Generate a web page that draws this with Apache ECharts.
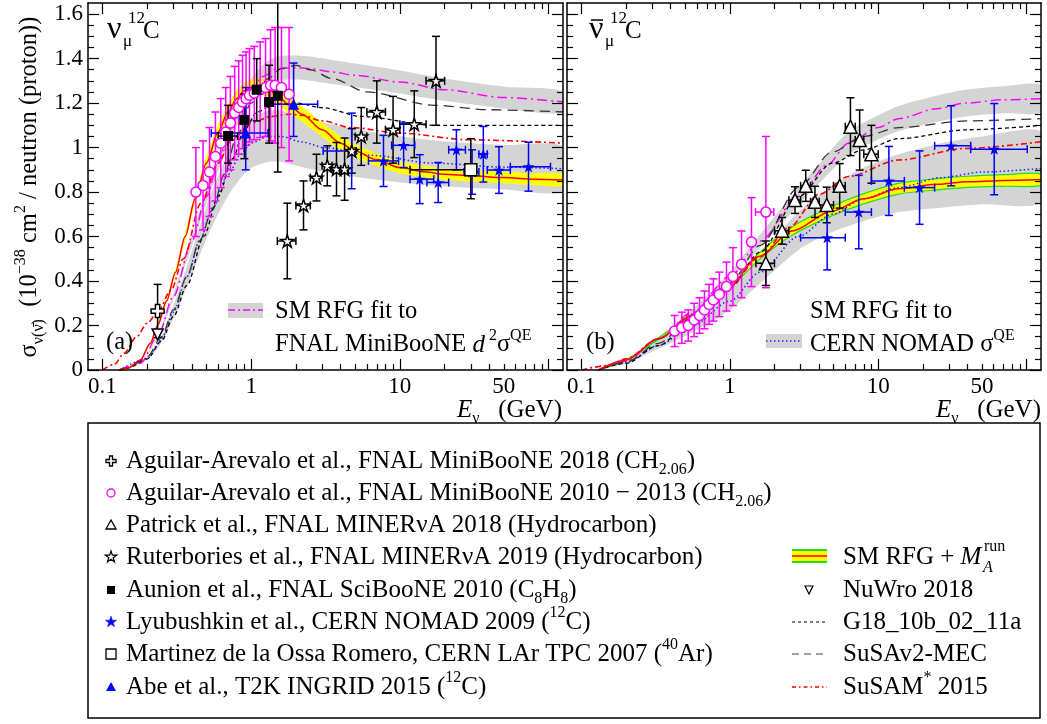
<!DOCTYPE html>
<html>
<head>
<meta charset="utf-8">
<script src="https://cdn.jsdelivr.net/npm/echarts@6/dist/echarts.min.js"></script>
<style>
  html, body { margin: 0; padding: 0; background: #fff; }
  #chart { width: 1047px; height: 724px; }
</style>
</head>
<body>
<div id="chart"></div>
<script>
// ---------------------------------------------------------------
// Energy axis (GeV, log scale) and cross-section axis (1e-38 cm^2)
// ---------------------------------------------------------------
const E_MIN = 0.08, E_MAX = 125, Y_MAX = 1.65;
const xMajorTicks = [0.1, 1, 10, 100];
const xMinorTicks = [0.2, 0.3, 0.4, 0.5, 0.6, 0.7, 0.8, 0.9,
                     2, 3, 4, 5, 6, 7, 8, 9,
                     20, 30, 40, 50, 60, 70, 80, 90];
const xTickLabels = [0.1, 1, 10, 50];
const yMajorTicks = [0, 0.2, 0.4, 0.6, 0.8, 1, 1.2, 1.4, 1.6];
const yMinorTicks = [0.05, 0.1, 0.15, 0.25, 0.3, 0.35, 0.45, 0.5, 0.55,
                     0.65, 0.7, 0.75, 0.85, 0.9, 0.95, 1.05, 1.1, 1.15,
                     1.25, 1.3, 1.35, 1.45, 1.5, 1.55];

// ---------------------------------------------------------------
// (a) nu_mu on 12C : model curves
// ---------------------------------------------------------------
const nuRfgE  = [0.13,0.15,0.18,0.21,0.235,0.27,0.31,0.36,0.42,0.5,0.6,0.7,0.8,0.9,1.0,1.15,1.3,1.5,1.8,2.2,3,4,5,7,10,15,20,30,50,80,125];
const nuRfgV  = [0,0.01,0.045,0.12,0.2,0.31,0.44,0.6,0.77,0.93,1.07,1.16,1.22,1.255,1.27,1.275,1.265,1.235,1.19,1.15,1.08,1.02,0.985,0.945,0.91,0.89,0.88,0.873,0.865,0.858,0.854];
const nuRfgLo = [0,0.01,0.044,0.116,0.194,0.3,0.427,0.582,0.747,0.902,1.038,1.125,1.183,1.217,1.232,1.237,1.227,1.198,1.154,1.116,1.048,0.989,0.955,0.917,0.883,0.863,0.854,0.847,0.839,0.832,0.828];
const nuRfgHi = [0,0.01,0.046,0.124,0.206,0.32,0.453,0.618,0.793,0.958,1.102,1.195,1.257,1.293,1.308,1.313,1.303,1.272,1.226,1.185,1.112,1.051,1.015,0.973,0.937,0.917,0.906,0.899,0.891,0.884,0.88];

const nuMagE  = [0.13,0.18,0.235,0.3,0.4,0.5,0.6,0.7,0.8,0.9,1.0,1.2,1.5,2,2.5,3.5,5,10,20,50,125];
const nuMagV  = [0,0.03,0.15,0.33,0.58,0.78,0.93,1.05,1.14,1.21,1.26,1.32,1.355,1.36,1.355,1.34,1.325,1.295,1.26,1.225,1.205];
const nuMagLo = [0,0.029,0.144,0.317,0.557,0.749,0.893,1.008,1.094,1.162,1.21,1.267,1.301,1.306,1.301,1.286,1.272,1.243,1.21,1.176,1.157];
const nuMagHi = [0,0.031,0.156,0.343,0.603,0.811,0.967,1.092,1.186,1.258,1.31,1.373,1.409,1.414,1.409,1.394,1.378,1.347,1.31,1.274,1.253];

const nuNomE  = [0.13,0.2,0.25,0.3,0.37,0.45,0.55,0.7,0.85,1.0,1.3,1.6,2.2,3.1,6.2,17,50,125];
const nuNomV  = [0,0.05,0.14,0.26,0.42,0.58,0.73,0.88,0.97,1.02,1.05,1.05,1.025,1.0,0.966,0.93,0.912,0.905];
const nuNomLo = [0,0.045,0.125,0.231,0.374,0.516,0.65,0.783,0.863,0.908,0.935,0.935,0.912,0.89,0.86,0.828,0.812,0.805];
const nuNomHi = [0,0.056,0.155,0.289,0.466,0.644,0.81,0.977,1.077,1.132,1.166,1.166,1.138,1.11,1.072,1.032,1.012,1.005];

const nuSusaE = [0.13,0.15,0.2,0.25,0.3,0.37,0.45,0.55,0.66,0.8,1.0,1.3,1.6,2.0,2.5,3.5,6,17,40,125];
const nuSusaV = [0,0.01,0.06,0.15,0.27,0.42,0.58,0.72,0.88,1.05,1.2,1.31,1.355,1.37,1.35,1.31,1.25,1.19,1.17,1.16];
const nuG18E  = [0.13,0.15,0.2,0.25,0.3,0.37,0.48,0.6,0.75,0.9,1.1,1.4,2,3,5.5,17,125];
const nuG18V  = [0,0.01,0.05,0.13,0.24,0.38,0.6,0.78,0.95,1.08,1.16,1.195,1.2,1.18,1.14,1.10,1.10];
const nuSamE  = [0.1,0.12,0.14,0.17,0.2,0.235,0.29,0.35,0.46,0.6,0.73,1.0,1.36,1.8,2.2,3,4.7,10,29,125];
const nuSamV  = [0,0.025,0.075,0.15,0.21,0.26,0.36,0.5,0.75,0.93,1.03,1.11,1.14,1.15,1.145,1.12,1.09,1.065,1.035,1.02];

// (a) measurements
const mbNuE   = [0.425,0.475,0.525,0.575,0.625,0.675,0.725,0.775,0.825,0.875,0.925,0.975,1.05,1.15,1.25,1.35,1.45,1.6,1.8];
const mbNuV   = [0.80,0.83,0.89,0.96,1.02,1.07,1.11,1.155,1.18,1.205,1.22,1.235,1.245,1.26,1.27,1.28,1.28,1.27,1.24];
const mbNuErr = [0.2,0.2,0.2,0.2,0.2,0.2,0.21,0.21,0.21,0.21,0.21,0.21,0.21,0.215,0.22,0.25,0.26,0.27,0.3];

const rutE    = [1.75,2.25,2.75,3.25,3.75,4.25,4.75,5.5,7,9,12.5,17.5];
const rutXlo  = [1.5,2,2.5,3,3.5,4,4.5,5,6,8,10,15];
const rutXhi  = [2,2.5,3,3.5,4,4.5,5,6,8,10,15,20];
const rutV    = [0.58,0.74,0.865,0.918,0.903,0.903,0.985,1.05,1.16,1.08,1.105,1.30];
const rutErr  = [0.17,0.11,0.105,0.09,0.12,0.14,0.10,0.13,0.14,0.15,0.15,0.20];

const nomNuE   = [4.74,7.76,10.6,13.6,18.1,24.0,30.6,36.4,46.4,73.3];
const nomNuXlo = [3.05,6.15,8.8,11.7,15.2,21.3,27,34,38.7,55.3];
const nomNuXhi = [5.1,9.8,12.6,16.9,21.3,27.6,34,38.7,55.3,103];
const nomNuV   = [0.985,0.94,1.01,0.858,0.843,0.99,0.89,0.97,0.899,0.914];
const nomNuErr = [0.17,0.115,0.10,0.11,0.09,0.09,0.10,0.125,0.105,0.11];

const t2kE   = [0.92,1.93];
const t2kXlo = [0.54,1.3];
const t2kXhi = [1.3,2.8];
const t2kV   = [1.065,1.195];
const t2kVlo = [0.9,1.05];
const t2kVhi = [1.27,1.38];

const sciE   = [0.70,0.90,1.09,1.32,1.51];
const sciXlo = [0.6,0.85,1.02,1.24,1.45];
const sciXhi = [0.81,0.95,1.16,1.40,1.58];
const sciV   = [1.052,1.124,1.26,1.205,1.233];
const sciVlo = [0.93,0.95,1.12,1.02,0.89];
const sciVhi = [1.19,1.24,1.40,1.37,1.75];

const mb18E = [0.235], mb18V = [0.265], mb18Err = [0.12];
const nuwroE = [0.235], nuwroV = [0.16];

const larE = [30], larXlo = [11.7], larXhi = [30], larV = [0.9], larVlo = [0.77], larVhi = [1.04];

// ---------------------------------------------------------------
// (b) anti-nu_mu on 12C : model curves
// ---------------------------------------------------------------
const nbRfgE  = [0.13,0.2,0.33,0.56,0.94,1.57,2.63,4.9,8,13.7,25,40,70,125];
const nbRfgV  = [0,0.045,0.14,0.245,0.36,0.51,0.625,0.715,0.77,0.815,0.835,0.846,0.852,0.856];
const nbRfgLo = [0,0.044,0.136,0.238,0.349,0.495,0.606,0.694,0.747,0.791,0.81,0.821,0.826,0.83];
const nbRfgHi = [0,0.046,0.144,0.252,0.371,0.525,0.644,0.736,0.793,0.839,0.86,0.871,0.878,0.882];

const nbMagE  = [0.13,0.2,0.33,0.56,1.0,1.6,2.9,4.5,6.3,10,13.7,25,38.6,70,125];
const nbMagV  = [0,0.04,0.14,0.26,0.42,0.58,0.78,0.92,1.02,1.09,1.13,1.175,1.2,1.215,1.22];
const nbMagLo = [0,0.038,0.133,0.247,0.399,0.551,0.741,0.874,0.969,1.036,1.074,1.116,1.14,1.154,1.159];
const nbMagHi = [0,0.042,0.147,0.273,0.441,0.609,0.819,0.966,1.071,1.145,1.187,1.234,1.26,1.276,1.281];

const nbNomE  = [0.13,0.2,0.33,0.56,1.0,1.6,2.9,4.9,8,13.7,26.6,50,125];
const nbNomV  = [0,0.035,0.11,0.2,0.31,0.44,0.6,0.7,0.77,0.82,0.865,0.89,0.906];
const nbNomLo = [0,0.03,0.095,0.17,0.27,0.39,0.54,0.62,0.67,0.71,0.73,0.745,0.755];
const nbNomHi = [0,0.04,0.13,0.24,0.37,0.52,0.71,0.83,0.91,0.97,1.02,1.05,1.07];

const nbSusaE = [0.13,0.2,0.33,0.56,1.0,1.6,2.9,4.9,8,13.7,40,125];
const nbSusaV = [0,0.035,0.12,0.235,0.39,0.56,0.82,0.98,1.05,1.09,1.12,1.13];
const nbG18E  = [0.13,0.2,0.33,0.56,1.0,1.6,2.9,4.9,8,13.7,40,125];
const nbG18V  = [0,0.03,0.11,0.22,0.37,0.53,0.78,0.93,0.99,1.04,1.08,1.10];
const nbSamE  = [0.1,0.15,0.2,0.33,0.56,1.0,1.6,2.5,4.0,6.3,13.7,38.6,125];
const nbSamV  = [0,0.02,0.05,0.14,0.25,0.38,0.51,0.64,0.79,0.87,0.944,0.996,1.026];

// (b) measurements
const mbNbE   = [0.425,0.475,0.525,0.575,0.625,0.675,0.725,0.775,0.85,0.95,1.05,1.2,1.4,1.75];
const mbNbV   = [0.175,0.19,0.20,0.225,0.245,0.27,0.295,0.315,0.34,0.375,0.42,0.475,0.575,0.71];
const mbNbErr = [0.07,0.07,0.07,0.075,0.08,0.085,0.09,0.095,0.1,0.11,0.13,0.15,0.2,0.34];
const mbNbXlo = [0.425,0.475,0.525,0.575,0.625,0.675,0.725,0.775,0.85,0.95,1.05,1.2,1.4,1.49];
const mbNbXhi = [0.425,0.475,0.525,0.575,0.625,0.675,0.725,0.775,0.85,0.95,1.05,1.2,1.4,1.98];

const patE   = [1.75,2.25,2.75,3.25,3.75,4.5,5.5,6.5,7.5,9];
const patXlo = [1.5,2,2.5,3,3.5,4,5,6,7,8];
const patXhi = [2,2.5,3,3.5,4,5,6,7,8,10];
const patV   = [0.48,0.626,0.764,0.828,0.756,0.742,0.828,1.094,1.034,0.97];
const patErr = [0.1,0.06,0.06,0.07,0.07,0.08,0.1,0.13,0.135,0.13];

const nomNbE   = [4.53,7.4,11.8,19,31,60.5];
const nomNbXlo = [3,6,9,15,24,42];
const nomNbXhi = [6,9,15,24,42,101];
const nomNbV   = [0.595,0.71,0.85,0.82,1.008,0.993];
const nomNbErr = [0.145,0.165,0.155,0.165,0.18,0.205];

// ---------------------------------------------------------------
// helpers
// ---------------------------------------------------------------
const lg = Math.log10;
const SERIF = '"Liberation Serif", "Times New Roman", serif';
const FS = 25;             // body text size
const BLACK = '#000';
const GREY = '#d4d4d4';
const MAGENTA = '#ff00ff';
const BLUE = '#0000ff';
const RED = '#ff0000';

const STAR = 'path://M0,-10L2.245,-3.09L9.511,-3.09L3.633,1.18L5.878,8.09L0,3.82L-5.878,8.09L-3.633,1.18L-9.511,-3.09L-2.245,-3.09Z';
const CROSS = 'path://M-1,-3L1,-3L1,-1L3,-1L3,1L1,1L1,3L-1,3L-1,1L-3,1L-3,-1L-1,-1Z';

function fmtE(v) {
  const e = Math.pow(10, v);
  return e < 1 ? e.toFixed(1) : String(Math.round(e));
}

function xAxesFor(g) {
  const base = { gridIndex: g, type: 'value', min: lg(E_MIN), max: lg(E_MAX), z: 10,
    splitLine: { show: false }, axisLine: { show: false, onZero: false },
    axisLabel: { show: false }, axisPointer: { show: false } };
  const line = { show: true, onZero: false, lineStyle: { color: BLACK, width: 1.5 } };
  const major = { show: true, inside: true, length: 11, lineStyle: { color: BLACK, width: 1.2 }, customValues: xMajorTicks.map(lg) };
  const minor = { show: true, inside: true, length: 6, lineStyle: { color: BLACK, width: 1.2 }, customValues: xMinorTicks.map(lg) };
  return [
    Object.assign({}, base, { position: 'bottom', axisLine: line, axisTick: major,
      axisLabel: { show: true, customValues: xTickLabels.map(lg), formatter: fmtE,
        fontFamily: SERIF, fontSize: 23, color: BLACK, margin: 5 } }),
    Object.assign({}, base, { position: 'bottom', axisTick: minor }),
    Object.assign({}, base, { position: 'top', axisLine: line, axisTick: major }),
    Object.assign({}, base, { position: 'top', axisTick: minor })
  ];
}

function yAxesFor(g) {
  const base = { gridIndex: g, type: 'value', min: 0, max: Y_MAX, z: 10,
    splitLine: { show: false }, axisLine: { show: false, onZero: false },
    axisLabel: { show: false }, axisPointer: { show: false } };
  const line = { show: true, onZero: false, lineStyle: { color: BLACK, width: 1.5 } };
  const major = { show: true, inside: true, length: 11, lineStyle: { color: BLACK, width: 1.2 }, customValues: yMajorTicks };
  const minor = { show: true, inside: true, length: 6, lineStyle: { color: BLACK, width: 1.2 }, customValues: yMinorTicks };
  const labels = g === 0
    ? { show: true, customValues: yMajorTicks, fontFamily: SERIF, fontSize: 23, color: BLACK, margin: 5 }
    : { show: false };
  return [
    Object.assign({}, base, { position: 'left', axisLine: line, axisTick: major, axisLabel: labels }),
    Object.assign({}, base, { position: 'left', axisTick: minor }),
    Object.assign({}, base, { position: 'right', axisLine: line, axisTick: major }),
    Object.assign({}, base, { position: 'right', axisTick: minor })
  ];
}

// filled band between two model curves (uncertainty region)
function band(g, E, lo, hi, fill, stroke) {
  const data = E.map((e, i) => [lg(e), lo[i], hi[i]]);
  return {
    type: 'custom', xAxisIndex: 4 * g, yAxisIndex: 4 * g, z: 1, clip: true, silent: true, data,
    renderItem(params, api) {
      if (params.dataIndex !== 0) return null;
      const up = data.map(d => api.coord([d[0], d[2]]));
      const dn = data.map(d => api.coord([d[0], d[1]])).reverse();
      return { type: 'polygon', shape: { points: up.concat(dn), smooth: 0.25 },
        style: { fill, stroke: stroke || null, lineWidth: 1.2 } };
    }
  };
}

function curve(g, E, V, color, dash, width, z) {
  return {
    type: 'line', xAxisIndex: 4 * g, yAxisIndex: 4 * g, z: z || 2, silent: true,
    data: E.map((e, i) => [lg(e), V[i]]), symbol: 'none', showSymbol: false,
    smooth: 0.3, smoothMonotone: 'x', clip: true,
    lineStyle: { color, type: dash, width }
  };
}

// error bars: rows of [E, value, low, high, E_low, E_high]
function errBars(g, color, rows) {
  return {
    type: 'custom', xAxisIndex: 4 * g, yAxisIndex: 4 * g, z: 3, clip: true, silent: true,
    data: rows.map(r => [lg(r[0]), r[1], r[2], r[3], lg(r[4]), lg(r[5])]),
    renderItem(params, api) {
      const x = api.value(0), y = api.value(1);
      const p = api.coord([x, y]);
      const t = api.coord([x, api.value(3)]);
      const b = api.coord([x, api.value(2)]);
      const st = { stroke: color, lineWidth: 1.5 };
      const cap = 4;
      const ch = [
        { type: 'line', shape: { x1: p[0], y1: t[1], x2: p[0], y2: b[1] }, style: st },
        { type: 'line', shape: { x1: p[0] - cap, y1: t[1], x2: p[0] + cap, y2: t[1] }, style: st },
        { type: 'line', shape: { x1: p[0] - cap, y1: b[1], x2: p[0] + cap, y2: b[1] }, style: st }
      ];
      const xl = api.value(4), xh = api.value(5);
      if (xh - xl > 1e-6) {
        const l = api.coord([xl, y]), r = api.coord([xh, y]);
        ch.push({ type: 'line', shape: { x1: l[0], y1: p[1], x2: r[0], y2: p[1] }, style: st });
        ch.push({ type: 'line', shape: { x1: l[0], y1: p[1] - cap, x2: l[0], y2: p[1] + cap }, style: st });
        ch.push({ type: 'line', shape: { x1: r[0], y1: p[1] - cap, x2: r[0], y2: p[1] + cap }, style: st });
      }
      return { type: 'group', children: ch };
    }
  };
}

function symRows(E, V, err, xlo, xhi) {
  return E.map((e, i) => [e, V[i], V[i] - err[i], V[i] + err[i], xlo ? xlo[i] : e, xhi ? xhi[i] : e]);
}
function asymRows(E, V, vlo, vhi, xlo, xhi) {
  return E.map((e, i) => [e, V[i], vlo[i], vhi[i], xlo ? xlo[i] : e, xhi ? xhi[i] : e]);
}

function marks(g, E, V, symbol, size, fill, stroke, rotate) {
  return {
    type: 'scatter', xAxisIndex: 4 * g, yAxisIndex: 4 * g, z: 4, silent: true,
    symbol, symbolSize: size, symbolKeepAspect: true, symbolRotate: rotate || 0,
    itemStyle: { color: fill, borderColor: stroke || fill, borderWidth: stroke ? 1.5 : 0, opacity: 1 },
    data: E.map((e, i) => [lg(e), V[i]])
  };
}

// ---------------------------------------------------------------
// series
// ---------------------------------------------------------------
const dotted = [1.5, 2.5], dashDot = [10, 4, 2, 4], shortDash = [4, 3], longDash = [10, 6], redDashDot = [6, 3, 2, 3];

const series = [
  // panel (a)
  band(0, nuNomE, nuNomLo, nuNomHi, GREY),
  band(0, nuMagE, nuMagLo, nuMagHi, GREY),
  band(0, nuRfgE, nuRfgLo, nuRfgHi, '#ffff00'),
  curve(0, nuNomE, nuNomV, '#2020ff', dotted, 1.5),
  curve(0, nuMagE, nuMagV, MAGENTA, dashDot, 1.5),
  curve(0, nuG18E, nuG18V, BLACK, shortDash, 1.3),
  curve(0, nuSusaE, nuSusaV, '#333', longDash, 1.3),
  curve(0, nuSamE, nuSamV, RED, redDashDot, 1.6),
  curve(0, nuRfgE, nuRfgV, RED, 'solid', 1.5),
  errBars(0, MAGENTA, symRows(mbNuE, mbNuV, mbNuErr)),
  errBars(0, BLACK, symRows(rutE, rutV, rutErr, rutXlo, rutXhi)),
  errBars(0, BLUE, symRows(nomNuE, nomNuV, nomNuErr, nomNuXlo, nomNuXhi)),
  errBars(0, BLUE, asymRows(t2kE, t2kV, t2kVlo, t2kVhi, t2kXlo, t2kXhi)),
  errBars(0, BLACK, asymRows(sciE, sciV, sciVlo, sciVhi, sciXlo, sciXhi)),
  errBars(0, BLACK, symRows(mb18E, mb18V, mb18Err)),
  errBars(0, BLACK, asymRows(larE, larV, larVlo, larVhi, larXlo, larXhi)),
  marks(0, nomNuE, nomNuV, STAR, 12, BLUE),
  marks(0, rutE, rutV, STAR, 13, '#fff', BLACK),
  marks(0, mbNuE, mbNuV, 'circle', 10, '#fff', MAGENTA),
  marks(0, t2kE, t2kV, 'triangle', 11, BLUE),
  marks(0, sciE, sciV, 'rect', 10, BLACK),
  marks(0, mb18E, mb18V, CROSS, 13, '#fff', BLACK),
  marks(0, nuwroE, nuwroV, 'triangle', 11, '#fff', BLACK, 180),
  marks(0, larE, larV, 'rect', 12, '#fff', BLACK),

  // panel (b)
  band(1, nbNomE, nbNomLo, nbNomHi, GREY),
  band(1, nbMagE, nbMagLo, nbMagHi, GREY),
  band(1, nbRfgE, nbRfgLo, nbRfgHi, '#ffff00', '#22dd22'),
  curve(1, nbNomE, nbNomV, '#2020ff', dotted, 1.5),
  curve(1, nbMagE, nbMagV, MAGENTA, dashDot, 1.5),
  curve(1, nbG18E, nbG18V, BLACK, shortDash, 1.3),
  curve(1, nbSusaE, nbSusaV, '#333', longDash, 1.3),
  curve(1, nbSamE, nbSamV, RED, redDashDot, 1.6),
  curve(1, nbRfgE, nbRfgV, RED, 'solid', 1.5),
  errBars(1, MAGENTA, symRows(mbNbE, mbNbV, mbNbErr, mbNbXlo, mbNbXhi)),
  errBars(1, BLACK, symRows(patE, patV, patErr, patXlo, patXhi)),
  errBars(1, BLUE, symRows(nomNbE, nomNbV, nomNbErr, nomNbXlo, nomNbXhi)),
  marks(1, nomNbE, nomNbV, STAR, 12, BLUE),
  marks(1, patE, patV, 'triangle', 13, '#fff', BLACK),
  marks(1, mbNbE, mbNbV, 'circle', 10, '#fff', MAGENTA)
];

// ---------------------------------------------------------------
// text, in-panel keys and the legend box
// ---------------------------------------------------------------
const RICH = {
  sub: { fontFamily: SERIF, fontSize: 16, lineHeight: 14, verticalAlign: 'bottom' },
  sup: { fontFamily: SERIF, fontSize: 16, lineHeight: 14, verticalAlign: 'top' },
  i:   { fontFamily: SERIF, fontStyle: 'italic', fontSize: FS, lineHeight: 34 }
};
function txt(x, y, text, size, align, extra) {
  return Object.assign({
    type: 'text', x, y, z: 100, silent: true,
    style: { text, fontFamily: SERIF, fontSize: size || FS, lineHeight: 34, fill: BLACK,
      align: align || 'left', verticalAlign: 'middle', rich: RICH }
  }, extra || {});
}
function hline(x1, x2, y, color, dash, width) {
  return { type: 'line', z: 100, silent: true, shape: { x1, y1: y, x2, y2: y },
    style: { stroke: color, lineDash: dash || null, lineWidth: width || 1.5 } };
}
function starPts(cx, cy, R) {
  const pts = [];
  for (let k = 0; k < 10; k++) {
    const a = -Math.PI / 2 + k * Math.PI / 5, r = k % 2 ? R * 0.38 : R;
    pts.push([cx + r * Math.cos(a), cy + r * Math.sin(a)]);
  }
  return pts;
}

const legendLeftRows = [
  'Aguilar-Arevalo et al., FNAL MiniBooNE 2018 (CH{sub|2.06})',
  'Aguilar-Arevalo et al., FNAL MiniBooNE 2010 \u2212 2013 (CH{sub|2.06})',
  'Patrick et al., FNAL MINER\u03bdA 2018 (Hydrocarbon)',
  'Ruterbories et al., FNAL MINER\u03bdA 2019 (Hydrocarbon)',
  'Aunion et al., FNAL SciBooNE 2010 (C{sub|8}H{sub|8})',
  'Lyubushkin et al., CERN NOMAD 2009 ({sup|12}C)',
  'Martinez de la Ossa Romero, CERN LAr TPC 2007 ({sup|40}Ar)',
  'Abe et al., T2K INGRID 2015 ({sup|12}C)'
];
const legendRightRows = ['SM RFG + {i|M}', 'NuWro 2018', 'G18_10b_02_11a', 'SuSAv2-MEC', 'SuSAM{sup|*} 2015'];
const rowY = [461, 493, 525, 557, 590, 622, 654, 687];

const graphics = [];
// legend frame
graphics.push({ type: 'rect', z: 99, silent: true, shape: { x: 88, y: 423, width: 952, height: 295 },
  style: { fill: '#fff', stroke: BLACK, lineWidth: 1.5 } });
legendLeftRows.forEach((t, i) => graphics.push(txt(126, rowY[i], t)));
// left-column markers
const mx = 111;
graphics.push({ type: 'polygon', z: 100, shape: { points: [[-1.5,-5],[1.5,-5],[1.5,-1.5],[5,-1.5],[5,1.5],[1.5,1.5],[1.5,5],[-1.5,5],[-1.5,1.5],[-5,1.5],[-5,-1.5],[-1.5,-1.5]].map(p => [mx + p[0], rowY[0] + p[1]]) }, style: { fill: '#fff', stroke: BLACK, lineWidth: 1.3 } });
graphics.push({ type: 'circle', z: 100, shape: { cx: mx, cy: rowY[1], r: 4 }, style: { fill: '#fff', stroke: MAGENTA, lineWidth: 1.3 } });
graphics.push({ type: 'polygon', z: 100, shape: { points: [[mx, rowY[2] - 5], [mx + 5, rowY[2] + 4], [mx - 5, rowY[2] + 4]] }, style: { fill: '#fff', stroke: BLACK, lineWidth: 1.3 } });
graphics.push({ type: 'polygon', z: 100, shape: { points: starPts(mx, rowY[3], 6) }, style: { fill: '#fff', stroke: BLACK, lineWidth: 1.2 } });
graphics.push({ type: 'rect', z: 100, shape: { x: mx - 4, y: rowY[4] - 4, width: 8, height: 8 }, style: { fill: BLACK } });
graphics.push({ type: 'polygon', z: 100, shape: { points: starPts(mx, rowY[5], 6) }, style: { fill: BLUE, stroke: BLUE, lineWidth: 0.5 } });
graphics.push({ type: 'rect', z: 100, shape: { x: mx - 5, y: rowY[6] - 5, width: 10, height: 10 }, style: { fill: '#fff', stroke: BLACK, lineWidth: 1.3 } });
graphics.push({ type: 'polygon', z: 100, shape: { points: [[mx, rowY[7] - 5], [mx + 5, rowY[7] + 4], [mx - 5, rowY[7] + 4]] }, style: { fill: BLUE } });
// right column
const rx1 = 792, rx2 = 827, rt = 843;
legendRightRows.forEach((t, i) => graphics.push(txt(rt, rowY[3 + i], t)));
graphics.push(txt(984, 547, 'run', 16));
graphics.push({ type: 'text', x: 983, y: 568, z: 100, silent: true,
  style: { text: 'A', fontFamily: SERIF, fontStyle: 'italic', fontSize: 16, fill: BLACK, align: 'left', verticalAlign: 'middle' } });
graphics.push({ type: 'rect', z: 100, shape: { x: rx1, y: rowY[3] - 7, width: rx2 - rx1, height: 12 }, style: { fill: '#ffff00' } });
graphics.push(hline(rx1, rx2, rowY[3] - 7, '#22dd22', null, 2));
graphics.push(hline(rx1, rx2, rowY[3] + 5, '#22dd22', null, 2));
graphics.push(hline(rx1, rx2, rowY[3] - 1, RED, null, 1.5));
graphics.push({ type: 'polygon', z: 100, shape: { points: [[809 - 4, rowY[4] - 4], [809 + 4, rowY[4] - 4], [809, rowY[4] + 4]] }, style: { fill: '#fff', stroke: BLACK, lineWidth: 1.2 } });
graphics.push(hline(rx1, rx2, rowY[5], BLACK, [3, 3], 1.2));
graphics.push(hline(rx1, rx2, rowY[6], '#444', [7, 5], 1.2));
graphics.push(hline(rx1, rx2, rowY[7], RED, [4, 3, 1.5, 3], 1.5));

// axis titles
graphics.push(txt(30, 187, '{s|\u03c3}{sub|\u03bd(\u03bd\u0304)}  (10{sup|\u221238} cm{sup|2} / neutron (proton))', 24.5, 'center',
  { rotation: Math.PI / 2 }));
graphics.push(txt(562, 410, '{i|E}{sub|\u03bd}   (GeV)', 25, 'right'));
graphics.push(txt(1041, 410, '{i|E}{sub|\u03bd}   (GeV)', 25, 'right'));

// panel titles
graphics.push(txt(107, 30, '\u03bd', 32));
graphics.push(txt(123, 42, '\u03bc', 17));
graphics.push(txt(128, 19, '12', 17));
graphics.push(txt(143, 31, 'C', 25));
graphics.push(txt(589, 30, '\u03bd', 32));
graphics.push(hline(591, 603, 20, BLACK, null, 1.5));
graphics.push(txt(605, 42, '\u03bc', 17));
graphics.push(txt(610, 19, '12', 17));
graphics.push(txt(625, 31, 'C', 25));
graphics.push(txt(106, 343, '(a)', 24.5));
graphics.push(txt(586, 343, '(b)', 24.5));

// in-panel keys
graphics.push({ type: 'rect', z: 100, shape: { x: 228, y: 303, width: 35, height: 15 }, style: { fill: GREY } });
graphics.push(hline(228, 263, 310, MAGENTA, [7, 3, 2, 3], 1.5));
graphics.push(txt(275, 312, 'SM RFG fit to', 24.5));
graphics.push(txt(275, 345, 'FNAL MiniBooNE {i|d}{sup| 2}\u03c3{sup|QE}', 24.5));
graphics.push({ type: 'rect', z: 100, shape: { x: 766, y: 334, width: 36, height: 14 }, style: { fill: GREY } });
graphics.push(hline(766, 802, 341, '#2020ff', [1.5, 2.5], 1.5));
graphics.push(txt(810, 312, 'SM RFG fit to', 24.5));
graphics.push(txt(810, 345, 'CERN NOMAD \u03c3{sup|QE}', 24.5));

// ---------------------------------------------------------------
const chart = echarts.init(document.getElementById('chart'), null, { renderer: 'canvas' });
chart.setOption({
  animation: false,
  backgroundColor: '#fff',
  grid: [
    { left: 88, top: 3, width: 475, height: 367, show: false },
    { left: 567, top: 3, width: 474, height: 367, show: false }
  ],
  xAxis: xAxesFor(0).concat(xAxesFor(1)),
  yAxis: yAxesFor(0).concat(yAxesFor(1)),
  series,
  graphic: graphics
});
</script>
</body>
</html>
